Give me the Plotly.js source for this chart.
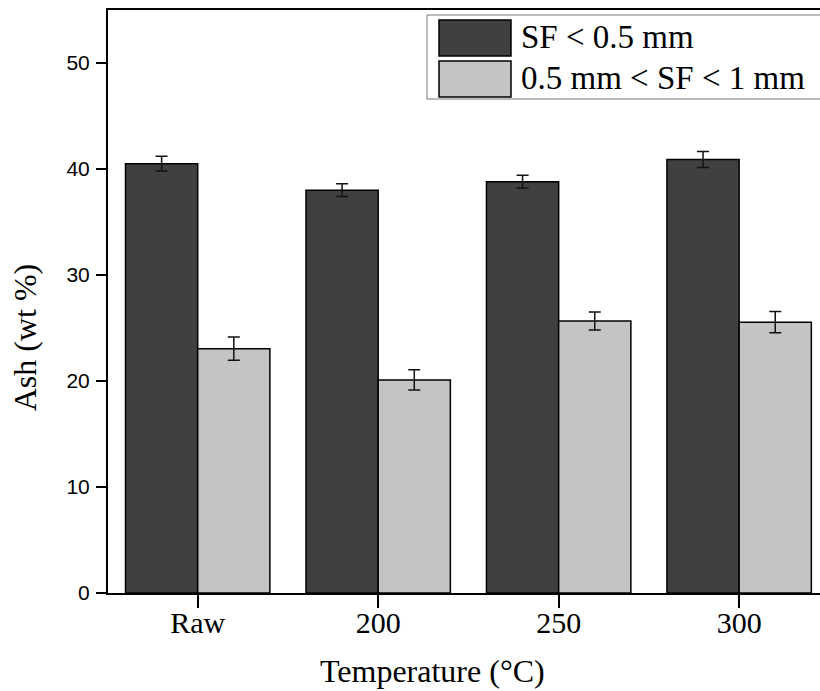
<!DOCTYPE html>
<html>
<head>
<meta charset="utf-8">
<script src="https://cdn.plot.ly/plotly-3.0.1.min.js"></script>
<style>html,body{margin:0;padding:0;background:#fff;}#chart{width:820px;height:691px;}</style>
</head>
<body>
<div id="chart"></div>
<script>
var categories = ['Raw', '200', '250', '300'];
var seriesNames = ['SF < 0.5 mm', '0.5 mm < SF < 1 mm'];
var sfSmall = [40.5, 38.0, 38.8, 40.9];
var sfSmallErr = [0.7, 0.6, 0.6, 0.75];
var sfLarge = [23.05, 20.1, 25.65, 25.55];
var sfLargeErr = [1.1, 0.95, 0.85, 1.0];
var yTicks = [0, 10, 20, 30, 40, 50];
var xTitle = 'Temperature (°C)';
var yTitle = 'Ash (wt %)';

var serif = 'Liberation Serif, Times New Roman, serif';
var sans = 'Liberation Sans, Arial, sans-serif';

function barTrace(name, y, err, color) {
  return {
    type: 'bar', name: name, x: categories, y: y,
    marker: {color: color, line: {color: '#000', width: 1.5}},
    error_y: {type: 'data', array: err, visible: true, color: '#111', thickness: 1.5, width: 6},
    showlegend: false, hoverinfo: 'skip'
  };
}

var traces = [
  barTrace(seriesNames[0], sfSmall, sfSmallErr, '#404040'),
  barTrace(seriesNames[1], sfLarge, sfLargeErr, '#c4c4c4')
];

function esc(s) { return s.replace(/</g, '&lt;'); }

var layout = {
  width: 820, height: 691,
  margin: {l: 108, r: 0, t: 10, b: 98},
  paper_bgcolor: '#fff', plot_bgcolor: '#fff',
  barmode: 'group', bargap: 0.2, bargroupgap: 0,
  xaxis: {
    type: 'category', range: [-0.497, 3.448],
    showline: true, linecolor: '#000', linewidth: 2, mirror: true,
    ticks: 'outside', ticklen: 13, tickwidth: 2, tickcolor: '#000',
    ticklabelstandoff: -11,
    showgrid: false, zeroline: false,
    tickfont: {family: serif, size: 30, color: '#000'}
  },
  yaxis: {
    range: [0, 55], tickvals: yTicks,
    showline: true, linecolor: '#000', linewidth: 2, mirror: false,
    ticks: 'outside', ticklen: 10, tickwidth: 2, tickcolor: '#000',
    ticklabelstandoff: 2,
    showgrid: false, zeroline: false,
    tickfont: {family: sans, size: 21, color: '#000'}
  },
  shapes: [
    {type: 'rect', xref: 'paper', yref: 'paper', x0: 0.448, x1: 1.02, y0: 0.8473, y1: 0.9914,
     line: {color: '#777', width: 1}, fillcolor: '#fff', layer: 'above'},
    {type: 'rect', xref: 'paper', yref: 'paper', x0: 0.4649, x1: 0.566, y0: 0.9211, y1: 0.9828,
     line: {color: '#000', width: 1.5}, fillcolor: '#404040', layer: 'above'},
    {type: 'rect', xref: 'paper', yref: 'paper', x0: 0.4649, x1: 0.566, y0: 0.8508, y1: 0.9125,
     line: {color: '#000', width: 1.5}, fillcolor: '#c4c4c4', layer: 'above'}
  ],
  annotations: [
    {xref: 'paper', yref: 'paper', x: 0.577, y: 0.954, xanchor: 'left', yanchor: 'middle',
     text: esc(seriesNames[0]), showarrow: false, font: {family: serif, size: 33, color: '#000'}},
    {xref: 'paper', yref: 'paper', x: 0.577, y: 0.8836, xanchor: 'left', yanchor: 'middle',
     text: esc(seriesNames[1]), showarrow: false, font: {family: serif, size: 33, color: '#000'}},
    {xref: 'paper', yref: 'paper', x: 0.4558, y: -0.1338, xanchor: 'center', yanchor: 'middle',
     text: xTitle, showarrow: false, font: {family: serif, size: 32, color: '#000'}},
    {xref: 'paper', yref: 'paper', x: -0.1166, y: 0.4386, xanchor: 'center', yanchor: 'middle',
     textangle: -90, text: yTitle, showarrow: false, font: {family: serif, size: 32, color: '#000'}}
  ]
};

Plotly.newPlot('chart', traces, layout, {displayModeBar: false, staticPlot: true});
</script>
</body>
</html>
